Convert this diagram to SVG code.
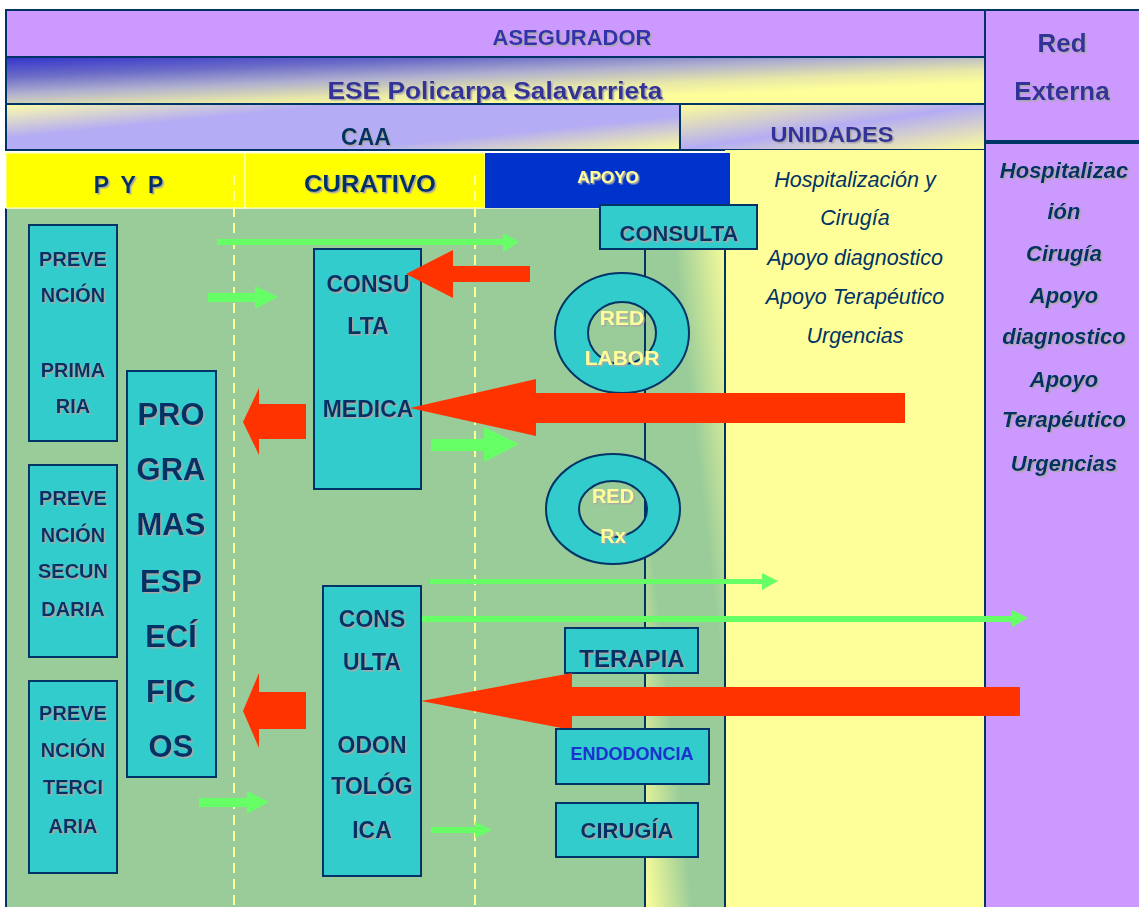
<svg xmlns="http://www.w3.org/2000/svg" width="1139" height="907" viewBox="0 0 1139 907">
<defs>
  <linearGradient id="gEse" gradientUnits="userSpaceOnUse" x1="6" y1="57" x2="8.8" y2="124.1">
    <stop offset="0" stop-color="#3333cc"/>
    <stop offset="0.3" stop-color="#6c6cc8"/>
    <stop offset="0.55" stop-color="#b0b0d0"/>
    <stop offset="0.8" stop-color="#e8e8a8"/>
    <stop offset="1" stop-color="#ffff99"/>
  </linearGradient>
  <linearGradient id="gCaa" gradientUnits="userSpaceOnUse" x1="6" y1="104" x2="17.6" y2="217.7">
    <stop offset="0" stop-color="#ffffaa"/>
    <stop offset="0.3" stop-color="#b4acf4"/>
    <stop offset="0.7" stop-color="#b4acf4"/>
    <stop offset="1" stop-color="#ffff99"/>
  </linearGradient>
  <linearGradient id="gUni" gradientUnits="userSpaceOnUse" x1="680" y1="104" x2="693.6" y2="193.9">
    <stop offset="0" stop-color="#ffff99"/>
    <stop offset="0.5" stop-color="#b4acf4"/>
    <stop offset="1" stop-color="#ffff99"/>
  </linearGradient>
  <linearGradient id="gStrip" x1="0" y1="1" x2="1" y2="0">
    <stop offset="0" stop-color="#ffff99"/>
    <stop offset="0.3" stop-color="#99cc99"/>
    <stop offset="0.65" stop-color="#99cc99"/>
    <stop offset="1" stop-color="#ffff99"/>
  </linearGradient>
  <filter id="sh" x="-10%" y="-20%" width="130%" height="150%">
    <feDropShadow dx="1.5" dy="1.5" stdDeviation="0" flood-color="#a8a8a8"/>
  </filter>
  <style>
    .box{fill:#33cccc;stroke:#003366;stroke-width:2}
    .ln{stroke:#003366;stroke-width:2;fill:none}
    .t{font-family:"Liberation Sans",Arial,sans-serif;font-weight:bold;fill:#003366;text-anchor:middle;filter:url(#sh)}
    .ty{font-family:"Liberation Sans",Arial,sans-serif;font-weight:bold;fill:#ffff99;text-anchor:middle;filter:url(#sh)}
    .it{font-family:"Liberation Sans",Arial,sans-serif;font-style:italic;fill:#003366;text-anchor:middle;font-size:21.5px}
    .itb{font-family:"Liberation Sans",Arial,sans-serif;font-style:italic;font-weight:bold;fill:#003366;text-anchor:middle;font-size:22px;filter:url(#sh)}
    .red{fill:#ff3300}
    .grn{fill:#66ff66}
    .dash{stroke:#ffff99;stroke-width:2;stroke-dasharray:10 6;fill:none}
  </style>
</defs>

<g id="asegurador">
  <rect x="6" y="10" width="979" height="47" fill="#cc99ff" stroke="#003366" stroke-width="2"/>
  <text x="572" y="45" class="t" style="fill:#3333aa;font-size:22px">ASEGURADOR</text>
</g>
<g id="red-externa">
  <rect x="985" y="10" width="160" height="131" fill="#cc99ff" stroke="#003366" stroke-width="2"/>
  <text x="1062" y="52" class="t" style="fill:#333399;font-size:26px">Red</text>
  <text x="1062" y="100" class="t" style="fill:#333399;font-size:26px">Externa</text>
</g>
<g id="ese">
  <rect x="6" y="57" width="979" height="47" fill="url(#gEse)" stroke="#003366" stroke-width="2"/>
  <text x="495" y="99" class="t" style="fill:#333399;font-size:24px" textLength="335" lengthAdjust="spacingAndGlyphs">ESE Policarpa Salavarrieta</text>
</g>
<g id="caa">
  <rect x="6" y="104" width="674" height="46" fill="url(#gCaa)" stroke="#003366" stroke-width="2"/>
  <text x="366" y="145" class="t" style="font-size:23px">CAA</text>
</g>
<g id="unidades">
  <rect x="680" y="104" width="305" height="46" fill="url(#gUni)" stroke="#003366" stroke-width="2"/>
  <text x="832" y="142" class="t" style="fill:#333399;font-size:22px" textLength="123" lengthAdjust="spacingAndGlyphs">UNIDADES</text>
</g>

<g id="areas">
  <rect x="725" y="150" width="260" height="757" fill="#ffff99"/>
  <rect x="6" y="208" width="639" height="699" fill="#99cc99"/>
  <rect x="645" y="208" width="80" height="699" fill="url(#gStrip)"/>
  <line x1="6" y1="208" x2="6" y2="907" class="ln"/>
  <line x1="645" y1="249" x2="645" y2="907" class="ln"/>
  <line x1="725" y1="249" x2="725" y2="907" class="ln"/>
  <line x1="6" y1="208" x2="645" y2="208" stroke="#e8f0d0" stroke-width="1.5"/>
</g>
<g id="externa-col">
  <rect x="985" y="143" width="160" height="770" fill="#cc99ff" stroke="#003366" stroke-width="2"/>
  <text x="1064" y="178" class="itb">Hospitalizac</text>
  <text x="1064" y="219" class="itb">ión</text>
  <text x="1064" y="261" class="itb">Cirugía</text>
  <text x="1064" y="303" class="itb">Apoyo</text>
  <text x="1064" y="344" class="itb">diagnostico</text>
  <text x="1064" y="387" class="itb">Apoyo</text>
  <text x="1064" y="427" class="itb">Terapéutico</text>
  <text x="1064" y="471" class="itb">Urgencias</text>
</g>

<g id="hdr-pyp">
  <rect x="6" y="153" width="239" height="55" fill="#ffff00" stroke="#ffffcc" stroke-width="1"/>
  <text x="130" y="193" class="t" style="font-size:23px;letter-spacing:3px">P Y P</text>
</g>
<g id="hdr-curativo">
  <rect x="245" y="153" width="240" height="55" fill="#ffff00" stroke="#ffffcc" stroke-width="1"/>
  <text x="370" y="192" class="t" style="font-size:23px" textLength="132" lengthAdjust="spacingAndGlyphs">CURATIVO</text>
</g>
<g id="hdr-apoyo">
  <rect x="485" y="153" width="245" height="55" fill="#0033cc"/>
  <text x="608" y="183" class="ty" style="font-size:17px">APOYO</text>
</g>
<g id="unidades-list">
  <text x="855" y="187" class="it">Hospitalización y</text>
  <text x="855" y="225" class="it">Cirugía</text>
  <text x="855" y="265" class="it">Apoyo diagnostico</text>
  <text x="855" y="304" class="it">Apoyo Terapéutico</text>
  <text x="855" y="343" class="it">Urgencias</text>
</g>

<g id="separators">
  <line x1="234" y1="175" x2="234" y2="907" class="dash"/>
  <line x1="475" y1="175" x2="475" y2="907" class="dash"/>
</g>

<g id="prev-primaria">
  <rect x="29" y="225" width="88" height="216" class="box"/>
  <text x="73" y="266" class="t" style="font-size:20px">PREVE</text>
  <text x="73" y="302" class="t" style="font-size:20px">NCIÓN</text>
  <text x="73" y="377" class="t" style="font-size:20px">PRIMA</text>
  <text x="73" y="413" class="t" style="font-size:20px">RIA</text>
</g>
<g id="prev-secundaria">
  <rect x="29" y="465" width="88" height="192" class="box"/>
  <text x="73" y="505" class="t" style="font-size:20px">PREVE</text>
  <text x="73" y="542" class="t" style="font-size:20px">NCIÓN</text>
  <text x="73" y="578" class="t" style="font-size:20px">SECUN</text>
  <text x="73" y="616" class="t" style="font-size:20px">DARIA</text>
</g>
<g id="prev-terciaria">
  <rect x="29" y="681" width="88" height="192" class="box"/>
  <text x="73" y="720" class="t" style="font-size:20px">PREVE</text>
  <text x="73" y="757" class="t" style="font-size:20px">NCIÓN</text>
  <text x="73" y="794" class="t" style="font-size:20px">TERCI</text>
  <text x="73" y="833" class="t" style="font-size:20px">ARIA</text>
</g>
<g id="programas">
  <rect x="127" y="371" width="89" height="406" class="box"/>
  <text x="171" y="425" class="t" style="font-size:31px">PRO</text>
  <text x="171" y="480" class="t" style="font-size:31px">GRA</text>
  <text x="171" y="535" class="t" style="font-size:31px">MAS</text>
  <text x="171" y="592" class="t" style="font-size:31px">ESP</text>
  <text x="171" y="647" class="t" style="font-size:31px">ECÍ</text>
  <text x="171" y="702" class="t" style="font-size:31px">FIC</text>
  <text x="171" y="757" class="t" style="font-size:31px">OS</text>
</g>
<g id="consulta-medica">
  <rect x="314" y="249" width="107" height="240" class="box"/>
  <text x="368" y="292" class="t" style="font-size:23px">CONSU</text>
  <text x="368" y="334" class="t" style="font-size:23px">LTA</text>
  <text x="368" y="417" class="t" style="font-size:23px">MEDICA</text>
</g>
<g id="consulta-odontologica">
  <rect x="323" y="586" width="98" height="290" class="box"/>
  <text x="372" y="627" class="t" style="font-size:23px">CONS</text>
  <text x="372" y="670" class="t" style="font-size:23px">ULTA</text>
  <text x="372" y="753" class="t" style="font-size:23px">ODON</text>
  <text x="372" y="794" class="t" style="font-size:23px">TOLÓG</text>
  <text x="372" y="838" class="t" style="font-size:23px">ICA</text>
</g>
<g id="consulta">
  <rect x="600" y="205" width="157" height="44" class="box"/>
  <text x="679" y="241" class="t" style="font-size:22px">CONSULTA</text>
</g>
<g id="red-labor">
  <path d="M555,333 a67,60 0 1,0 134,0 a67,60 0 1,0 -134,0 Z M588,333 a34,31 0 1,0 68,0 a34,31 0 1,0 -68,0 Z" fill="#33cccc" fill-rule="evenodd" stroke="#003366" stroke-width="2"/>
  <text x="622" y="325" class="ty" style="font-size:21px">RED</text>
  <text x="622" y="365" class="ty" style="font-size:21px">LABOR</text>
</g>
<g id="red-rx">
  <path d="M546,509 a67,55 0 1,0 134,0 a67,55 0 1,0 -134,0 Z M579,509 a34,28 0 1,0 68,0 a34,28 0 1,0 -68,0 Z" fill="#33cccc" fill-rule="evenodd" stroke="#003366" stroke-width="2"/>
  <text x="613" y="503" class="ty" style="font-size:20px">RED</text>
  <text x="613" y="543" class="ty" style="font-size:20px">Rx</text>
</g>

<g id="connectors">
  <polygon class="grn" points="217,239 503,239 503,233 519,242 503,252 503,245 217,245"/>
  <polygon class="grn" points="208,293 255,293 255,286 278,297 255,309 255,302 208,302"/>
  <polygon class="grn" points="431,439 484,439 484,427 519,444 484,462 484,451 431,451"/>
  <polygon class="grn" points="430,579 762,579 762,573 778,581 762,590 762,584 430,584"/>
  <polygon class="grn" points="422,616 1012,616 1012,610 1028,618 1012,627 1012,622 422,622"/>
  <polygon class="grn" points="199,798 247,798 247,791 269,802 247,814 247,807 199,807"/>
  <polygon class="grn" points="431,827 475,827 475,822 492,830 475,838 475,833 431,833"/>

  <polygon class="red" points="406,274 453,250 453,266 530,266 530,282 453,282 453,298"/>
  <polygon class="red" points="410,408 536,379 536,393 905,393 905,423 536,423 536,436"/>
  <polygon class="red" points="243,422 259,388 259,404 306,404 306,439 259,439 259,455"/>
  <polygon class="red" points="243,711 259,673 259,692 306,692 306,729 259,729 259,748"/>
</g>

<g id="terapia">
  <rect x="565" y="628" width="133" height="45" class="box"/>
  <text x="632" y="667" class="t" style="font-size:24px">TERAPIA</text>
</g>
<g id="connectors-front">
  <polygon class="red" points="421,701 572,673 572,687 1020,687 1020,716 572,716 572,730"/>
</g>
<g id="endodoncia">
  <rect x="556" y="729" width="153" height="55" class="box"/>
  <text x="632" y="760" class="t" style="fill:#1a33cc;font-size:18px;filter:none">ENDODONCIA</text>
</g>
<g id="cirugia">
  <rect x="556" y="803" width="142" height="54" class="box"/>
  <text x="627" y="838" class="t" style="font-size:22px">CIRUGÍA</text>
</g>
</svg>
